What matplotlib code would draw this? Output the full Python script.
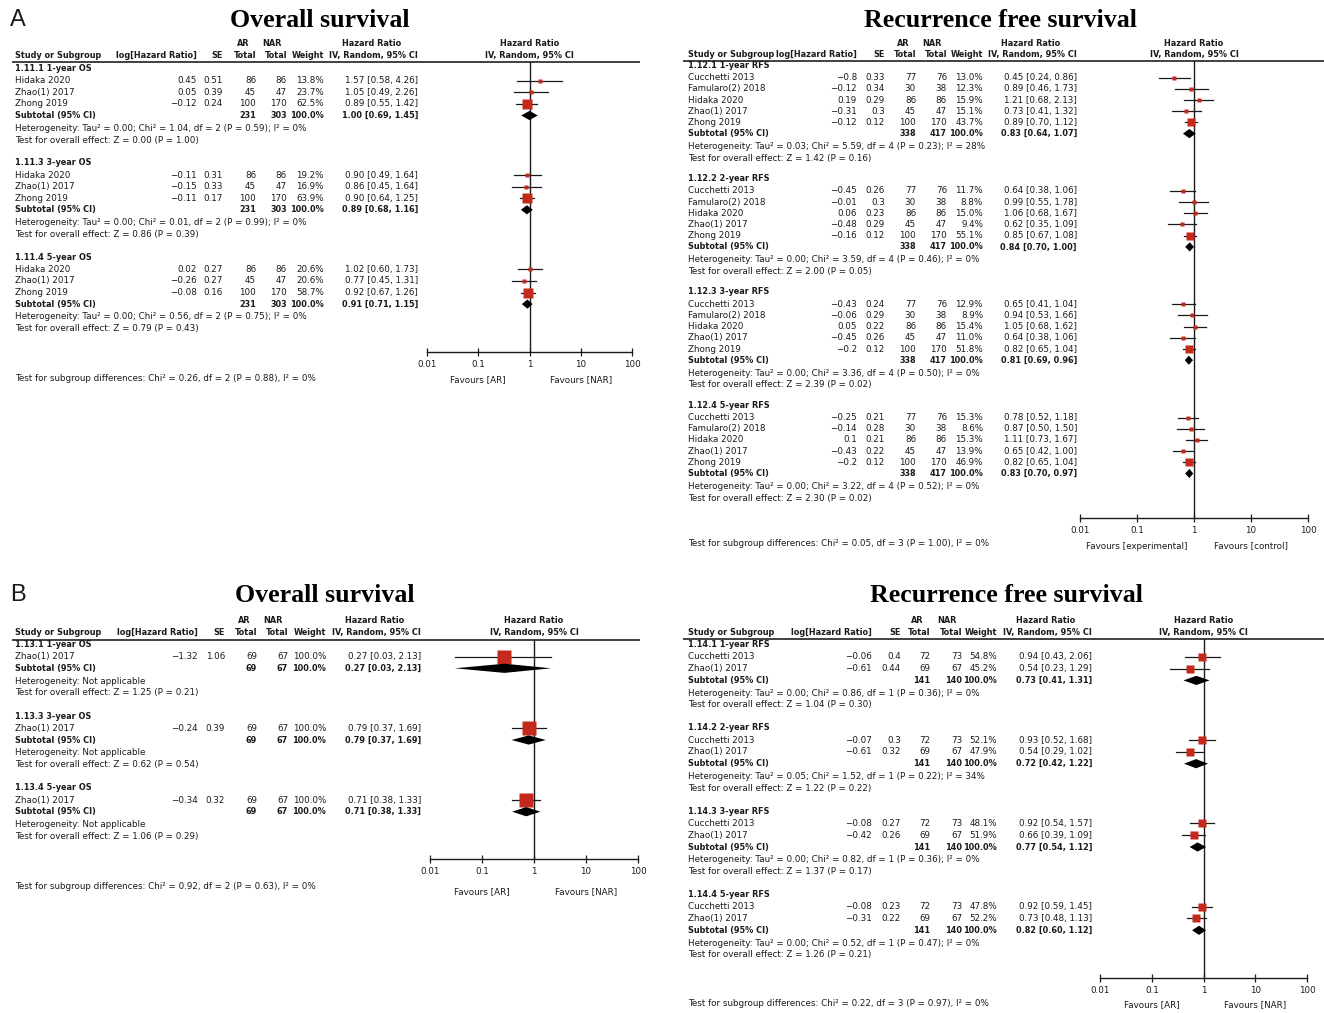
"""Four RevMan-style forest plots (panels A and B, OS and RFS) drawn on one figure."""

import matplotlib

matplotlib.use("Agg")
import matplotlib.pyplot as plt
from matplotlib.ticker import NullLocator

W, H = 1324, 1013
RED = "#c4291c"
INK = "#1a1a1a"
FS = 6.3
BFS = 5.85  # DejaVu bold runs wide, so bold rows are set a touch smaller
MINUS = "\u2212"

# ---- A: overall survival ----
AOS_GROUPS = ["1.11.1 1-year OS", "1.11.3 3-year OS", "1.11.4 5-year OS"]
AOS_STUDIES = ["Hidaka 2020", "Zhao(1) 2017", "Zhong 2019"]
AOS_N_AR = [86, 45, 100]
AOS_N_NAR = [86, 47, 170]
AOS_LOGHR = [[0.45, 0.05, -0.12], [-0.11, -0.15, -0.11], [0.02, -0.26, -0.08]]
AOS_SE = [[0.51, 0.39, 0.24], [0.31, 0.33, 0.17], [0.27, 0.27, 0.16]]
AOS_WEIGHT = [[13.8, 23.7, 62.5], [19.2, 16.9, 63.9], [20.6, 20.6, 58.7]]
AOS_HR = [[1.57, 1.05, 0.89], [0.90, 0.86, 0.90], [1.02, 0.77, 0.92]]
AOS_LO = [[0.58, 0.49, 0.55], [0.49, 0.45, 0.64], [0.60, 0.45, 0.67]]
AOS_HI = [[4.26, 2.26, 1.42], [1.64, 1.64, 1.25], [1.73, 1.31, 1.26]]
AOS_SUB_HR = [1.00, 0.89, 0.91]
AOS_SUB_LO = [0.69, 0.68, 0.71]
AOS_SUB_HI = [1.45, 1.16, 1.15]
AOS_HET = [
    "Tau\u00b2 = 0.00; Chi\u00b2 = 1.04, df = 2 (P = 0.59); I\u00b2 = 0%",
    "Tau\u00b2 = 0.00; Chi\u00b2 = 0.01, df = 2 (P = 0.99); I\u00b2 = 0%",
    "Tau\u00b2 = 0.00; Chi\u00b2 = 0.56, df = 2 (P = 0.75); I\u00b2 = 0%",
]
AOS_Z = ["Z = 0.00 (P = 1.00)", "Z = 0.86 (P = 0.39)", "Z = 0.79 (P = 0.43)"]
AOS_DIFF = "Chi\u00b2 = 0.26, df = 2 (P = 0.88), I\u00b2 = 0%"

# ---- A: recurrence free survival ----
ARFS_GROUPS = ["1.12.1 1-year RFS", "1.12.2 2-year RFS", "1.12.3 3-year RFS", "1.12.4 5-year RFS"]
ARFS_STUDIES = ["Cucchetti 2013", "Famularo(2) 2018", "Hidaka 2020", "Zhao(1) 2017", "Zhong 2019"]
ARFS_N_AR = [77, 30, 86, 45, 100]
ARFS_N_NAR = [76, 38, 86, 47, 170]
ARFS_LOGHR = [
    [-0.8, -0.12, 0.19, -0.31, -0.12],
    [-0.45, -0.01, 0.06, -0.48, -0.16],
    [-0.43, -0.06, 0.05, -0.45, -0.2],
    [-0.25, -0.14, 0.1, -0.43, -0.2],
]
ARFS_SE = [
    [0.33, 0.34, 0.29, 0.3, 0.12],
    [0.26, 0.3, 0.23, 0.29, 0.12],
    [0.24, 0.29, 0.22, 0.26, 0.12],
    [0.21, 0.28, 0.21, 0.22, 0.12],
]
ARFS_WEIGHT = [
    [13.0, 12.3, 15.9, 15.1, 43.7],
    [11.7, 8.8, 15.0, 9.4, 55.1],
    [12.9, 8.9, 15.4, 11.0, 51.8],
    [15.3, 8.6, 15.3, 13.9, 46.9],
]
ARFS_HR = [
    [0.45, 0.89, 1.21, 0.73, 0.89],
    [0.64, 0.99, 1.06, 0.62, 0.85],
    [0.65, 0.94, 1.05, 0.64, 0.82],
    [0.78, 0.87, 1.11, 0.65, 0.82],
]
ARFS_LO = [
    [0.24, 0.46, 0.68, 0.41, 0.70],
    [0.38, 0.55, 0.68, 0.35, 0.67],
    [0.41, 0.53, 0.68, 0.38, 0.65],
    [0.52, 0.50, 0.73, 0.42, 0.65],
]
ARFS_HI = [
    [0.86, 1.73, 2.13, 1.32, 1.12],
    [1.06, 1.78, 1.67, 1.09, 1.08],
    [1.04, 1.66, 1.62, 1.06, 1.04],
    [1.18, 1.50, 1.67, 1.00, 1.04],
]
ARFS_SUB_HR = [0.83, 0.84, 0.81, 0.83]
ARFS_SUB_LO = [0.64, 0.70, 0.69, 0.70]
ARFS_SUB_HI = [1.07, 1.00, 0.96, 0.97]
ARFS_HET = [
    "Tau\u00b2 = 0.03; Chi\u00b2 = 5.59, df = 4 (P = 0.23); I\u00b2 = 28%",
    "Tau\u00b2 = 0.00; Chi\u00b2 = 3.59, df = 4 (P = 0.46); I\u00b2 = 0%",
    "Tau\u00b2 = 0.00; Chi\u00b2 = 3.36, df = 4 (P = 0.50); I\u00b2 = 0%",
    "Tau\u00b2 = 0.00; Chi\u00b2 = 3.22, df = 4 (P = 0.52); I\u00b2 = 0%",
]
ARFS_Z = ["Z = 1.42 (P = 0.16)", "Z = 2.00 (P = 0.05)", "Z = 2.39 (P = 0.02)", "Z = 2.30 (P = 0.02)"]
ARFS_DIFF = "Chi\u00b2 = 0.05, df = 3 (P = 1.00), I\u00b2 = 0%"

# ---- B: overall survival ----
BOS_GROUPS = ["1.13.1 1-year OS", "1.13.3 3-year OS", "1.13.4 5-year OS"]
BOS_STUDIES = ["Zhao(1) 2017"]
BOS_N_AR = [69]
BOS_N_NAR = [67]
BOS_LOGHR = [[-1.32], [-0.24], [-0.34]]
BOS_SE = [[1.06], [0.39], [0.32]]
BOS_WEIGHT = [[100.0], [100.0], [100.0]]
BOS_HR = [[0.27], [0.79], [0.71]]
BOS_LO = [[0.03], [0.37], [0.38]]
BOS_HI = [[2.13], [1.69], [1.33]]
BOS_SUB_HR = [0.27, 0.79, 0.71]
BOS_SUB_LO = [0.03, 0.37, 0.38]
BOS_SUB_HI = [2.13, 1.69, 1.33]
BOS_HET = None  # "Not applicable" for single-study subgroups
BOS_Z = ["Z = 1.25 (P = 0.21)", "Z = 0.62 (P = 0.54)", "Z = 1.06 (P = 0.29)"]
BOS_DIFF = "Chi\u00b2 = 0.92, df = 2 (P = 0.63), I\u00b2 = 0%"

# ---- B: recurrence free survival ----
BRFS_GROUPS = ["1.14.1 1-year RFS", "1.14.2 2-year RFS", "1.14.3 3-year RFS", "1.14.4 5-year RFS"]
BRFS_STUDIES = ["Cucchetti 2013", "Zhao(1) 2017"]
BRFS_N_AR = [72, 69]
BRFS_N_NAR = [73, 67]
BRFS_LOGHR = [[-0.06, -0.61], [-0.07, -0.61], [-0.08, -0.42], [-0.08, -0.31]]
BRFS_SE = [[0.4, 0.44], [0.3, 0.32], [0.27, 0.26], [0.23, 0.22]]
BRFS_WEIGHT = [[54.8, 45.2], [52.1, 47.9], [48.1, 51.9], [47.8, 52.2]]
BRFS_HR = [[0.94, 0.54], [0.93, 0.54], [0.92, 0.66], [0.92, 0.73]]
BRFS_LO = [[0.43, 0.23], [0.52, 0.29], [0.54, 0.39], [0.59, 0.48]]
BRFS_HI = [[2.06, 1.29], [1.68, 1.02], [1.57, 1.09], [1.45, 1.13]]
BRFS_SUB_HR = [0.73, 0.72, 0.77, 0.82]
BRFS_SUB_LO = [0.41, 0.42, 0.54, 0.60]
BRFS_SUB_HI = [1.31, 1.22, 1.12, 1.12]
BRFS_HET = [
    "Tau\u00b2 = 0.00; Chi\u00b2 = 0.86, df = 1 (P = 0.36); I\u00b2 = 0%",
    "Tau\u00b2 = 0.05; Chi\u00b2 = 1.52, df = 1 (P = 0.22); I\u00b2 = 34%",
    "Tau\u00b2 = 0.00; Chi\u00b2 = 0.82, df = 1 (P = 0.36); I\u00b2 = 0%",
    "Tau\u00b2 = 0.00; Chi\u00b2 = 0.52, df = 1 (P = 0.47); I\u00b2 = 0%",
]
BRFS_Z = ["Z = 1.04 (P = 0.30)", "Z = 1.22 (P = 0.22)", "Z = 1.37 (P = 0.17)", "Z = 1.26 (P = 0.21)"]
BRFS_DIFF = "Chi\u00b2 = 0.22, df = 3 (P = 0.97), I\u00b2 = 0%"

TICKS = [0.01, 0.1, 1, 10, 100]
TICK_LABELS = ["0.01", "0.1", "1", "10", "100"]


def num(v):
    s = f"{v:g}"
    return s.replace("-", MINUS)


def ci(hr, lo, hi):
    return f"{hr:.2f} [{lo:.2f}, {hi:.2f}]"


def draw_panel(fig, tx, p):
    c = p["cols"]
    kw = dict(fontsize=FS, color=INK, va="center")
    bold = dict(fontsize=BFS, color=INK, va="center", fontweight="bold")

    # header
    y1, y2 = p["head"]
    tx.text(c["ar"] - 13, y1, "AR", ha="center", **bold)
    tx.text(c["nar"] - 15, y1, "NAR", ha="center", **bold)
    tx.text(c["hr"] - 46, y1, "Hazard Ratio", ha="center", **bold)
    tx.text(c["study"], y2, "Study or Subgroup", ha="left", **bold)
    tx.text(c["loghr"], y2, "log[Hazard Ratio]", ha="right", **bold)
    tx.text(c["se"], y2, "SE", ha="right", **bold)
    tx.text(c["ar"], y2, "Total", ha="right", **bold)
    tx.text(c["nar"], y2, "Total", ha="right", **bold)
    tx.text(c["weight"], y2, "Weight", ha="right", **bold)
    tx.text(c["hr"], y2, "IV, Random, 95% CI", ha="right", **bold)
    tx.plot(p["rule_x"], [p["rule_y"]] * 2, color="#333333", lw=1.3, solid_capstyle="butt")

    # forest axes, y in figure pixel rows
    fx0, fx1 = p["forest_x"]
    ytop, ybot = p["rule_y"], p["axis_y"]
    ax = fig.add_axes([fx0 / W, 1 - ybot / H, (fx1 - fx0) / W, (ybot - ytop) / H])
    ax.set_facecolor("none")
    ax.set_xscale("log")
    ax.set_xlim(0.01, 100)
    ax.set_ylim(ybot, ytop)
    ax.set_xticks(TICKS)
    ax.set_xticklabels(TICK_LABELS)
    ax.xaxis.set_minor_locator(NullLocator())
    ax.set_yticks([])
    for s in ("left", "right", "top"):
        ax.spines[s].set_visible(False)
    ax.spines["bottom"].set_linewidth(1.0)
    ax.spines["bottom"].set_color(INK)
    ax.tick_params(axis="x", direction="inout", length=6, width=0.9, pad=3,
                   labelsize=FS, colors=INK)
    ax.axvline(1, color=INK, lw=1.0)
    ax.text(1, y1, "Hazard Ratio", ha="center", clip_on=False, **bold)
    ax.text(1, y2, "IV, Random, 95% CI", ha="center", clip_on=False, **bold)
    fy = ybot + p["fav_dy"]
    ax.text(0.1, fy, p["favours"][0], ha="center", clip_on=False, **kw)
    ax.text(10, fy, p["favours"][1], ha="center", clip_on=False, **kw)

    n = len(p["studies"])
    step = p["step"]
    for g, label in enumerate(p["groups"]):
        base = p["y0"] + g * p["period"]
        tx.text(c["study"], base - 12.3, label, ha="left", **bold)
        for i, name in enumerate(p["studies"]):
            y = base + i * step
            tx.text(c["study"], y, name, ha="left", **kw)
            tx.text(c["loghr"], y, num(p["loghr"][g][i]), ha="right", **kw)
            tx.text(c["se"], y, num(p["se"][g][i]), ha="right", **kw)
            tx.text(c["ar"], y, str(p["n_ar"][i]), ha="right", **kw)
            tx.text(c["nar"], y, str(p["n_nar"][i]), ha="right", **kw)
            w = p["weight"][g][i]
            tx.text(c["weight"], y, f"{w:.1f}%", ha="right", **kw)
            hr, lo, hi = p["hr"][g][i], p["lo"][g][i], p["hi"][g][i]
            tx.text(c["hr"], y, ci(hr, lo, hi), ha="right", **kw)
            ax.plot([lo, hi], [y, y], color=INK, lw=0.9, clip_on=False)
            side_px = max(3.2, 14 * (w / 100) ** 0.75)
            ax.plot([hr], [y], marker="s", ms=side_px * 0.72, color=RED,
                    mec="none", clip_on=False, zorder=3)
        ys = base + n * step
        tx.text(c["study"], ys, "Subtotal (95% CI)", ha="left", **bold)
        tx.text(c["ar"], ys, str(sum(p["n_ar"])), ha="right", **bold)
        tx.text(c["nar"], ys, str(sum(p["n_nar"])), ha="right", **bold)
        tx.text(c["weight"], ys, "100.0%", ha="right", **bold)
        shr, slo, shi = p["sub_hr"][g], p["sub_lo"][g], p["sub_hi"][g]
        tx.text(c["hr"], ys, ci(shr, slo, shi), ha="right", **bold)
        ax.fill([slo, shr, shi, shr], [ys, ys - 4.6, ys, ys + 4.6], color="black",
                lw=0, clip_on=False, zorder=4)
        yh = ys + 12.8
        het = "Not applicable" if p["het"] is None else p["het"][g]
        tx.text(c["study"], yh, "Heterogeneity: " + het, ha="left", **kw)
        tx.text(c["study"], yh + 11.8, "Test for overall effect: " + p["z"][g], ha="left", **kw)

    tx.text(c["study"], p["diff_y"], "Test for subgroup differences: " + p["diff"], ha="left", **kw)
    tx.text(p["title"][0], p["title"][1], p["title"][2], ha="center", va="center",
            fontsize=18.6, fontweight="bold", family="Liberation Serif", color="black")


def main():
    fig = plt.figure(figsize=(W / 100, H / 100), dpi=100)
    tx = fig.add_axes([0, 0, 1, 1])
    tx.set_xlim(0, W)
    tx.set_ylim(H, 0)
    tx.set_axis_off()

    panels = [
        dict(groups=AOS_GROUPS, studies=AOS_STUDIES, n_ar=AOS_N_AR, n_nar=AOS_N_NAR,
             loghr=AOS_LOGHR, se=AOS_SE, weight=AOS_WEIGHT, hr=AOS_HR, lo=AOS_LO, hi=AOS_HI,
             sub_hr=AOS_SUB_HR, sub_lo=AOS_SUB_LO, sub_hi=AOS_SUB_HI,
             het=AOS_HET, z=AOS_Z, diff=AOS_DIFF,
             cols=dict(study=15, loghr=197, se=223, ar=256, nar=287, weight=324, hr=418),
             head=(43, 55.5), rule_y=62, rule_x=(12, 640),
             y0=80.7, step=11.6, period=94.3,
             forest_x=(427, 632), axis_y=352, fav_dy=28, diff_y=378,
             favours=("Favours [AR]", "Favours [NAR]"),
             title=(320, 20, "Overall survival")),
        dict(groups=ARFS_GROUPS, studies=ARFS_STUDIES, n_ar=ARFS_N_AR, n_nar=ARFS_N_NAR,
             loghr=ARFS_LOGHR, se=ARFS_SE, weight=ARFS_WEIGHT, hr=ARFS_HR, lo=ARFS_LO,
             hi=ARFS_HI, sub_hr=ARFS_SUB_HR, sub_lo=ARFS_SUB_LO, sub_hi=ARFS_SUB_HI,
             het=ARFS_HET, z=ARFS_Z, diff=ARFS_DIFF,
             cols=dict(study=688, loghr=857, se=885, ar=916, nar=947, weight=983, hr=1077),
             head=(43, 54.5), rule_y=61, rule_x=(683, 1324),
             y0=77.6, step=11.2, period=113.3,
             forest_x=(1080, 1308), axis_y=518, fav_dy=28, diff_y=543,
             favours=("Favours [experimental]", "Favours [control]"),
             title=(1000, 20, "Recurrence free survival")),
        dict(groups=BOS_GROUPS, studies=BOS_STUDIES, n_ar=BOS_N_AR, n_nar=BOS_N_NAR,
             loghr=BOS_LOGHR, se=BOS_SE, weight=BOS_WEIGHT, hr=BOS_HR, lo=BOS_LO, hi=BOS_HI,
             sub_hr=BOS_SUB_HR, sub_lo=BOS_SUB_LO, sub_hi=BOS_SUB_HI,
             het=BOS_HET, z=BOS_Z, diff=BOS_DIFF,
             cols=dict(study=15, loghr=198, se=225, ar=257, nar=288, weight=326, hr=421),
             head=(620, 632), rule_y=640, rule_x=(12, 640),
             y0=656.7, step=11.6, period=71.7,
             forest_x=(430, 638), axis_y=859, fav_dy=33, diff_y=886,
             favours=("Favours [AR]", "Favours [NAR]"),
             title=(325, 595, "Overall survival")),
        dict(groups=BRFS_GROUPS, studies=BRFS_STUDIES, n_ar=BRFS_N_AR, n_nar=BRFS_N_NAR,
             loghr=BRFS_LOGHR, se=BRFS_SE, weight=BRFS_WEIGHT, hr=BRFS_HR, lo=BRFS_LO,
             hi=BRFS_HI, sub_hr=BRFS_SUB_HR, sub_lo=BRFS_SUB_LO, sub_hi=BRFS_SUB_HI,
             het=BRFS_HET, z=BRFS_Z, diff=BRFS_DIFF,
             cols=dict(study=688, loghr=872, se=901, ar=930, nar=962, weight=997, hr=1092),
             head=(620, 632), rule_y=639, rule_x=(683, 1324),
             y0=656.8, step=11.8, period=83.3,
             forest_x=(1100, 1307), axis_y=978, fav_dy=27, diff_y=1003,
             favours=("Favours [AR]", "Favours [NAR]"),
             title=(1007, 595, "Recurrence free survival")),
    ]
    for p in panels:
        draw_panel(fig, tx, p)

    tx.text(10, 20, "A", ha="left", va="center", fontsize=17, family="Liberation Sans", color=INK)
    tx.text(10, 595, "B", ha="left", va="center", fontsize=17, family="Liberation Sans", color=INK)

    fig.savefig("out.png", dpi=100, facecolor="white")
    plt.close(fig)


if __name__ == "__main__":
    main()
